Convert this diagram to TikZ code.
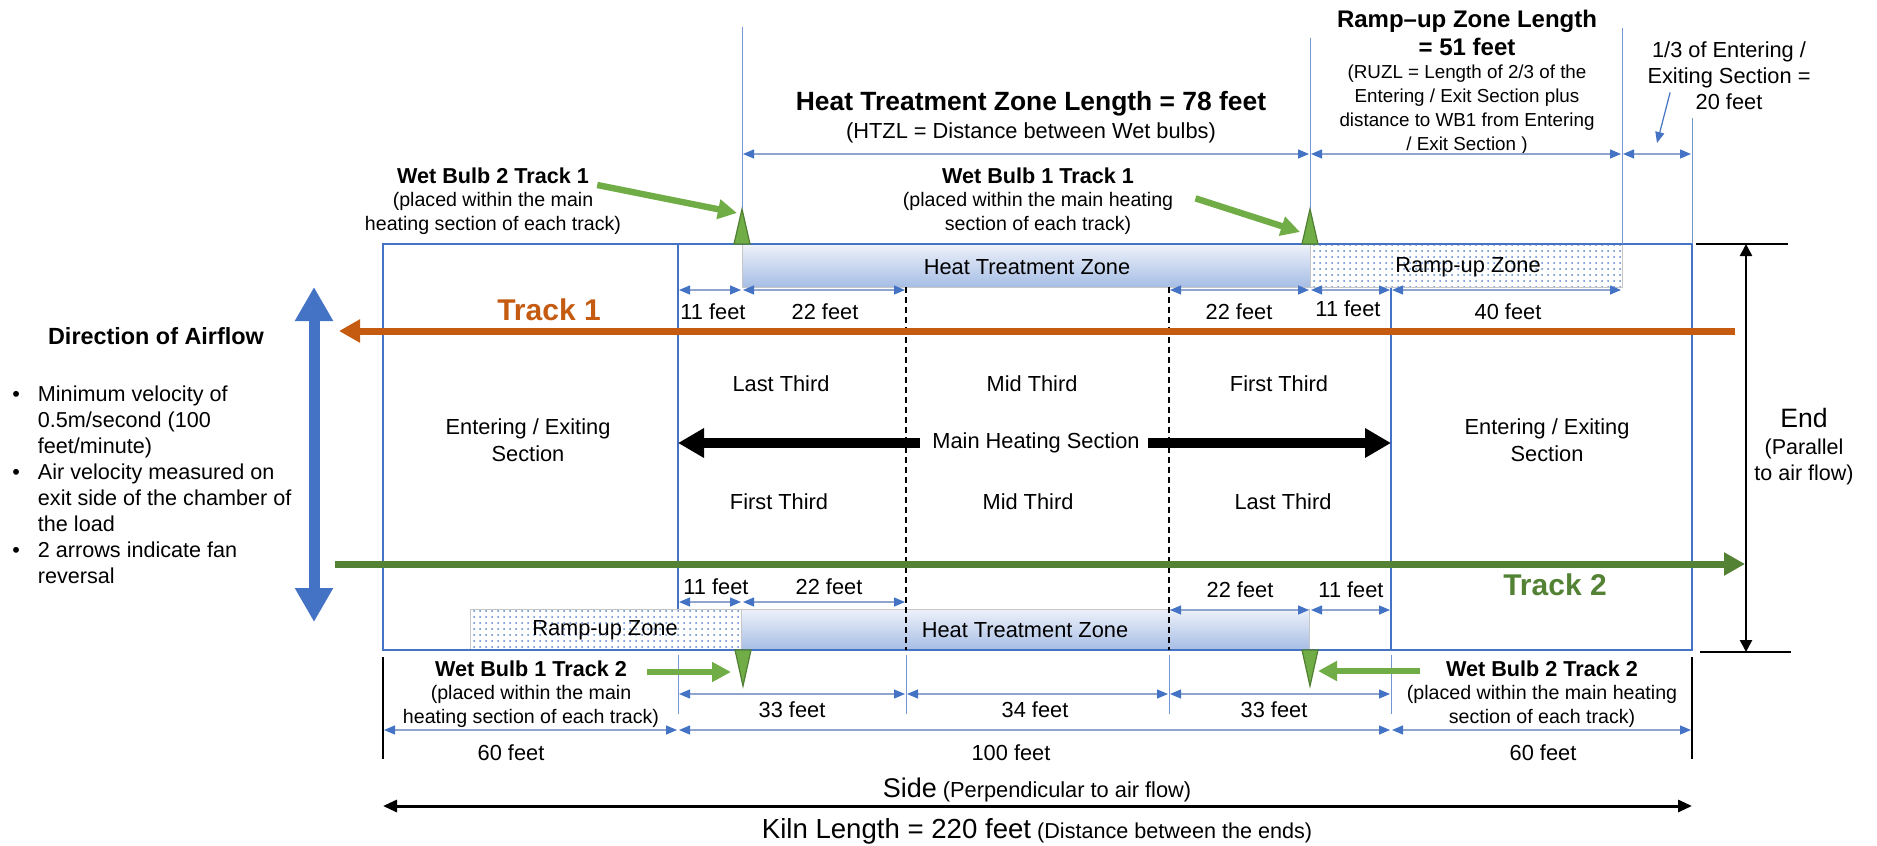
\documentclass[tikz,border=0pt]{standalone}
\usepackage{fontspec}
\setmainfont{Liberation Sans}
\usetikzlibrary{arrows.meta}
\usetikzlibrary{patterns}
\usetikzlibrary{positioning}

\definecolor{lineblue}{HTML}{4472C4}
\definecolor{dimgray}{HTML}{8FA5CC}
\definecolor{dotblue}{HTML}{5B84CC}
\definecolor{trackorange}{HTML}{C55A11}
\definecolor{trackgreen}{HTML}{548235}
\definecolor{bulbgreen}{HTML}{70AD47}
\definecolor{bulbedge}{HTML}{507E32}
\definecolor{bartop}{HTML}{EEF2FA}
\definecolor{barbottom}{HTML}{A6BDE5}

\newcommand{\fsz}[2]{\fontsize{#1}{#2}\selectfont}

\tikzset{
  dimline/.style={<->, >={Triangle[length=5.5pt,width=4.5pt,color=lineblue]}, dimgray, line width=0.6pt, shorten <=0.5pt, shorten >=0.5pt},
  extline/.style={lineblue!75, line width=0.5pt},
  lbl/.style={inner sep=1pt, font=\fsz{10.9}{13}},
  note/.style={inner sep=1pt, align=center, font=\fsz{9.8}{11.6}},
  wbtitle/.style={inner sep=1pt, font=\fsz{10.8}{13}\bfseries},
  ramp/.style={preaction={fill=white}, pattern=dots, pattern color=dotblue, draw=gray!45, line width=0.5pt},
  htz/.style={top color=bartop, bottom color=barbottom, draw=gray!45, line width=0.5pt},
  bulb/.style={fill=bulbgreen, draw=bulbedge, line width=0.6pt},
  bulbarrow/.style={-{Triangle[length=9.5pt,width=9.5pt]}, bulbgreen, line width=3.2pt},
  heat/.style={-{Triangle[length=13pt,width=14pt]}, line width=5pt},
  trackarrow/.style={-{Triangle[length=10.5pt,width=11pt]}, line width=3.5pt},
}

\begin{document}
\begin{tikzpicture}[x=0.5pt, y=-0.5pt]
\useasboundingbox (0,0) rectangle (1877,845);

% columns and rows
\foreach \n/\x in {L/383, A/678, W/742, P/906, Q/1169, V/1310, B/1391, R/1622, E/1692}
  \coordinate (c\n) at (\x,0);
\foreach \n/\y in {T/154, U/290, Ll/602, Lr/610, M/694, N/730, S/806}
  \coordinate (r\n) at (0,\y);

% inner walls of the main heating section
\draw[lineblue, line width=1.2pt] (678,244) -- (678,650);
\draw[lineblue, line width=1.2pt] (1391,244) -- (1391,650);

% zones
\shade[htz] (742,244) rectangle (1310,287);
\path[ramp] (1310,244) rectangle (1622,287);
\path[ramp] (470,609) rectangle (741,650);
\shade[htz] (741,609) rectangle (1309,650);

% kiln
\draw[lineblue, line width=1pt] (383,244) rectangle (1692,650);
\draw[dashed, dash pattern=on 3pt off 2pt, line width=0.8pt] (906,287) -- (906,650);
\draw[dashed, dash pattern=on 3pt off 2pt, line width=0.8pt] (1169,287) -- (1169,650);

\node[lbl] (HZ1) at (1027,267) {Heat Treatment Zone};
\node[lbl] (RZ1) at (1468,267) {Ramp-up Zone};
\node[lbl] (RZ2) at (605,630) {Ramp-up Zone};
\node[lbl] (HZ2) at (1025,630) {Heat Treatment Zone};

% wet bulbs
\foreach \x in {742, 1310}
  \filldraw[bulb] (\x-8,244) -- (\x+8,244) -- (\x,209) -- cycle;
\foreach \x in {743, 1310}
  \filldraw[bulb] (\x-8,650) -- (\x+8,650) -- (\x,686) -- cycle;

% extension lines
\draw[extline] (742,27) -- (742,209);
\draw[extline] (1310,38) -- (1310,209);
\draw[extline] (1622,28) -- (1622,244);
\draw[extline] (1692,118) -- (1692,244);
\foreach \x in {678, 906, 1169, 1391}
  \draw[extline] (\x,655) -- (\x,714);
\draw[line width=1.2pt] (383,657) -- (383,759);
\draw[line width=1.2pt] (1692,657) -- (1692,759);

% top labels
\node[font=\fsz{13.2}{16}\bfseries] (H) at (1031,104) {Heat Treatment Zone Length = 78 feet};
\node[lbl] (H2) at (1031,133) {(HTZL = Distance between Wet bulbs)};
\node[align=center, font=\fsz{12}{14}\bfseries] (R1) at (1467,33) {Ramp--up Zone Length\\= 51 feet};
\node[align=center, font=\fsz{9.4}{12}] (R2) at (1467,110) {(RUZL = Length of 2/3 of the\\Entering / Exit Section plus\\distance to WB1 from Entering\\/ Exit Section )};
\node[lbl, align=center] (F) at (1729,76) {1/3 of Entering /\\Exiting Section =\\20 feet};
\coordinate (u1) at (1657,143);
\draw[-{Triangle[length=5.5pt,width=4.5pt]}, lineblue, line width=0.6pt] ([shift={(25,-20)}]F.south west) -- (u1);

\draw[dimline] (cW |- rT) -- (cV |- rT);
\draw[dimline] (cV |- rT) -- (cR |- rT);
\draw[dimline] (cR |- rT) -- (cE |- rT);

% wet bulb labels
\node[wbtitle] (W2T1) at (493,176) {Wet Bulb 2 Track 1};
\node[note] (B2) at (493,213.5) {(placed within the main\\heating section of each track)};
\node[wbtitle] (W1T1) at (1038,176) {Wet Bulb 1 Track 1};
\node[note] (B1) at (1038,213.5) {(placed within the main heating\\section of each track)};
\node[wbtitle] (W1T2) at (531,669) {Wet Bulb 1 Track 2};
\node[note] (B3) at (531,706.5) {(placed within the main\\heating section of each track)};
\node[wbtitle] (W2T2) at (1542,669) {Wet Bulb 2 Track 2};
\node[note] (B4) at (1542,706.5) {(placed within the main heating\\section of each track)};

\coordinate (t1) at (737,213);
\coordinate (t2) at (1300,232);
\coordinate (t3) at (731,672);
\coordinate (t4) at (1318,671);
\draw[bulbarrow] ([shift={(6,9)}]W2T1.east) -- (t1);
\draw[bulbarrow] ([shift={(20,8)}]B1.north east) -- (t2);
\draw[bulbarrow] ([shift={(18,3)}]W1T2.east) -- (t3);
\draw[bulbarrow] ([shift={(-24,2)}]W2T2.west) -- (t4);

% small dimensions
\draw[dimline] (cA |- rU) -- (cW |- rU);
\draw[dimline] (cW |- rU) -- (cP |- rU);
\draw[dimline] (cQ |- rU) -- (cV |- rU);
\draw[dimline] (cV |- rU) -- (cB |- rU);
\draw[dimline] (cB |- rU) -- (cR |- rU);
\node[lbl] (d1) at (713,312) {11 feet};
\node[lbl] (d2) at (825,312) {22 feet};
\node[lbl] (d3) at (1239,312) {22 feet};
\node[lbl] (d4) at (1348,309) {11 feet};
\node[lbl] (d5) at (1508,312) {40 feet};

\draw[dimline] (cA |- rLl) -- (cW |- rLl);
\draw[dimline] (cW |- rLl) -- (cP |- rLl);
\draw[dimline] (cQ |- rLr) -- (cV |- rLr);
\draw[dimline] (cV |- rLr) -- (cB |- rLr);
\node[lbl] (d6) at (716,587) {11 feet};
\node[lbl] (d7) at (829,587) {22 feet};
\node[lbl] (d8) at (1240,590) {22 feet};
\node[lbl] (d9) at (1351,590) {11 feet};

\draw[dimline] (cA |- rM) -- (cP |- rM);
\draw[dimline] (cP |- rM) -- (cQ |- rM);
\draw[dimline] (cQ |- rM) -- (cB |- rM);
\node[lbl] (d10) at (792,710) {33 feet};
\node[lbl] (d11) at (1035,710) {34 feet};
\node[lbl] (d12) at (1274,710) {33 feet};

\draw[dimline] (cL |- rN) -- (cA |- rN);
\draw[dimline] (cA |- rN) -- (cB |- rN);
\draw[dimline] (cB |- rN) -- (cE |- rN);
\node[lbl] (d13) at (511,753) {60 feet};
\node[lbl] (d14) at (1011,753) {100 feet};
\node[lbl] (d15) at (1543,753) {60 feet};

% tracks
\coordinate (k1s) at (1735,331);
\coordinate (k1e) at (339,331);
\coordinate (k2s) at (335,564);
\coordinate (k2e) at (1745,564);
\draw[trackarrow, trackorange] (k1s) -- (k1e);
\draw[trackarrow, trackgreen] (k2s) -- (k2e);
\node[font=\fsz{15}{18}\bfseries, text=trackorange] (T1) at (549,310) {Track 1};
\node[font=\fsz{15}{18}\bfseries, text=trackgreen] (T2) at (1555,585) {Track 2};

% sections
\node[lbl, align=center, font=\fsz{10.9}{13.5}] (EL) at (528,440.5) {Entering / Exiting\\Section};
\node[lbl, align=center, font=\fsz{10.9}{13.5}] (ER) at (1547,440.5) {Entering / Exiting\\Section};
\node[lbl] (LT1) at (781,384) {Last Third};
\node[lbl] (MT1) at (1032,384) {Mid Third};
\node[lbl] (FT1) at (1279,384) {First Third};
\node[lbl] (FT2) at (779,502) {First Third};
\node[lbl] (MT2) at (1028,502) {Mid Third};
\node[lbl] (LT2) at (1283,502) {Last Third};

\node[lbl] (M) at (1036,443) {Main Heating Section};
\coordinate (mL) at (678,443);
\coordinate (mR) at (1391,443);
\draw[heat] ([shift={(-10,0)}]M.west) -- (mL);
\draw[heat] ([shift={(6,0)}]M.east) -- (mR);

% airflow
\coordinate (a1) at (314,287);
\coordinate (a2) at (314,622);
\draw[{Triangle[length=17pt,width=18pt]}-{Triangle[length=17pt,width=18pt]}, lineblue, line width=5.5pt] (a1) -- (a2);
\node[font=\fsz{11.7}{14}\bfseries] (D) at (156,336) {Direction of Airflow};
\node[anchor=north west, inner sep=0pt, font=\fsz{10.8}{13}] (N) at (12,383) {%
\begin{tabular}{@{}l@{\hspace{9pt}}l@{}}
\textbullet & Minimum velocity of\\
 & 0.5m/second (100\\
 & feet/minute)\\
\textbullet & Air velocity measured on\\
 & exit side of the chamber of\\
 & the load\\
\textbullet & 2 arrows indicate fan\\
 & reversal
\end{tabular}};

% end of kiln
\coordinate (e1) at (1746,244);
\coordinate (e2) at (1746,652);
\draw[line width=1.2pt] (1696,244) -- (1788,244);
\draw[line width=1.2pt] (1700,652) -- (1791,652);
\draw[{Triangle[length=6pt,width=6pt]}-{Triangle[length=6pt,width=6pt]}, line width=1.2pt] (e1) -- (e2);
\node[font=\fsz{13.3}{16}] (E1) at (1804,418) {End};
\node[align=center, font=\fsz{10.75}{13}] (E2) at (1804,462) {(Parallel\\to air flow)};

% side of kiln
\draw[{Triangle[length=7pt,width=6pt]}-{Triangle[length=7pt,width=6pt]}, line width=1.5pt] (cL |- rS) -- (cE |- rS);
\node[anchor=base, inner sep=0pt, font=\fsz{10.9}{13}] (S) at (1037,797) {{\fsz{13.5}{16}Side} (Perpendicular to air flow)};
\node[anchor=base, inner sep=0pt, font=\fsz{10.8}{13}] (K) at (1037,838) {{\fsz{13.8}{16}Kiln Length = 220 feet} (Distance between the ends)};
\end{tikzpicture}
\end{document}
